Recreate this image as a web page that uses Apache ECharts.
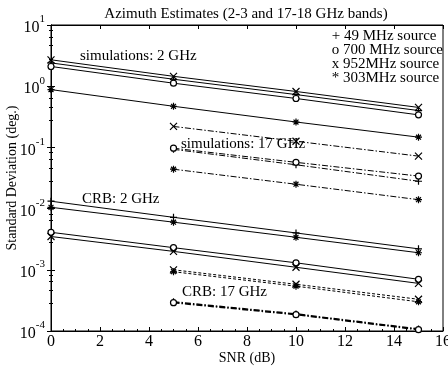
<!DOCTYPE html>
<html><head><meta charset="utf-8">
<script src="https://cdn.jsdelivr.net/npm/echarts@6/dist/echarts.min.js"></script>
<style>html,body{margin:0;padding:0;background:#fff}#c{width:448px;height:366px}</style>
</head><body><div id="c"></div>
<script>
var snr2 = [0, 5, 10, 15];
var snr17 = [5, 10, 15];
// simulations, 2 GHz
var sim2_49  = [2.4, 1.3, 0.73, 0.40];
var sim2_700 = [2.1, 1.12, 0.63, 0.34];
var sim2_952 = [2.7, 1.45, 0.82, 0.45];
var sim2_303 = [0.88, 0.47, 0.26, 0.147];
// simulations, 17 GHz
var sim17_49  = [0.093, 0.052, 0.028];
var sim17_700 = [0.097, 0.057, 0.034];
var sim17_952 = [0.22, 0.126, 0.072];
var sim17_303 = [0.044, 0.025, 0.014];
// CRB, 2 GHz
var crb2_49  = [0.0132, 0.0072, 0.0040, 0.0022];
var crb2_700 = [0.0041, 0.0023, 0.0013, 0.0007];
var crb2_952 = [0.0035, 0.0020, 0.0011, 0.0006];
var crb2_303 = [0.0105, 0.0060, 0.0034, 0.0019];
// CRB, 17 GHz
var crb17_49  = [0.00030, 0.00019, 0.000108];
var crb17_700 = [0.00029, 0.000185, 0.000105];
var crb17_952 = [0.00100, 0.00058, 0.00033];
var crb17_303 = [0.00093, 0.00054, 0.00030];

var legendLines = ['+ 49 MHz source', 'o 700 MHz source', 'x 952MHz source', '* 303MHz source'];
var xTicks = [0, 2, 4, 6, 8, 10, 12, 14, 16];

var FONT = 'Liberation Serif';
var SYM = {
  plus: 'path://M5 0 L5 10 M0 5 L10 5',
  cross: 'path://M0 0 L10 10 M10 0 L0 10',
  star: 'path://M5 0 L5 10 M0 5 L10 5 M1.5 1.5 L8.5 8.5 M8.5 1.5 L1.5 8.5',
  circle: 'circle'
};
function pairs(xs, ys) { return xs.map(function (x, i) { return [x, ys[i]]; }); }
function mk(name, xs, ys, sym, ltype, lw) {
  return {
    name: name, type: 'line', data: pairs(xs, ys),
    symbol: SYM[sym], symbolSize: sym === 'circle' ? 6 : 7,
    showSymbol: true,
    lineStyle: { color: '#000', width: lw || 1, type: ltype },
    itemStyle: { color: sym === 'circle' ? '#fff' : 'rgba(0,0,0,0)', borderColor: '#000', borderWidth: 1.2 },
    animation: false, z: 3
  };
}
var dashdot = [6, 2, 1.5, 2];
var dashed = [3, 2];
var series = [
  mk('sim2 49', snr2, sim2_49, 'plus', 'solid'),
  mk('sim2 700', snr2, sim2_700, 'circle', 'solid'),
  mk('sim2 952', snr2, sim2_952, 'cross', 'solid'),
  mk('sim2 303', snr2, sim2_303, 'star', 'solid'),
  mk('sim17 49', snr17, sim17_49, 'plus', dashdot),
  mk('sim17 700', snr17, sim17_700, 'circle', dashdot),
  mk('sim17 952', snr17, sim17_952, 'cross', dashdot),
  mk('sim17 303', snr17, sim17_303, 'star', dashdot),
  mk('crb2 49', snr2, crb2_49, 'plus', 'solid'),
  mk('crb2 700', snr2, crb2_700, 'circle', 'solid'),
  mk('crb2 952', snr2, crb2_952, 'cross', 'solid'),
  mk('crb2 303', snr2, crb2_303, 'star', 'solid'),
  mk('crb17 49', snr17, crb17_49, 'plus', dashdot, 1.5),
  mk('crb17 700', snr17, crb17_700, 'circle', dashdot, 1.5),
  mk('crb17 952', snr17, crb17_952, 'cross', dashed),
  mk('crb17 303', snr17, crb17_303, 'star', dashed)
];

var chart = echarts.init(document.getElementById('c'), null, { renderer: 'canvas' });
var axisLine = { show: true, lineStyle: { color: '#000', width: 1 } };
var tickIn = { show: true, inside: true, length: 4, lineStyle: { color: '#000' } };
var minorIn = { show: true, splitNumber: 5, length: 2, lineStyle: { color: '#000' } };
function expFmt(v) {
  var e = Math.round(Math.log10(v));
  return '{b|10}{s|' + e + '}';
}
var rich = {
  b: { fontFamily: FONT, fontSize: 16, color: '#000', verticalAlign: 'bottom', lineHeight: 22 },
  s: { fontFamily: FONT, fontSize: 11, color: '#000', verticalAlign: 'top', lineHeight: 22 }
};
chart.setOption({
  backgroundColor: '#fff',
  animation: false,
  title: {
    text: 'Azimuth Estimates (2-3 and 17-18 GHz bands)',
    left: 241, top: 2, textAlign: 'center',
    textStyle: { fontFamily: FONT, fontSize: 15, fontWeight: 'normal', color: '#000' }
  },
  grid: { left: 51, right: 5, top: 25, bottom: 35, outerBoundsMode: 'none', containLabel: false, show: true, borderColor: '#000', borderWidth: 1, backgroundColor: 'transparent' },
  xAxis: [{
    type: 'value', min: xTicks[0], max: xTicks[xTicks.length - 1], interval: 2,
    axisLine: axisLine, axisTick: tickIn, splitLine: { show: false },
    minorTick: { show: true, splitNumber: 4, length: 2, lineStyle: { color: '#000' } },
    axisLabel: { fontFamily: FONT, fontSize: 16, color: '#000', margin: 3, hideOverlap: false },
    name: 'SNR (dB)', nameLocation: 'middle', nameGap: 20, nameMoveOverlap: false,
    nameTextStyle: { fontFamily: FONT, fontSize: 14, color: '#000' }
  }, {
    type: 'value', position: 'top', min: xTicks[0], max: xTicks[xTicks.length - 1], interval: 2,
    axisLine: axisLine, axisTick: tickIn, axisLabel: { show: false }, splitLine: { show: false }
  }],
  yAxis: [{
    type: 'log', logBase: 10, min: 1e-4, max: 10,
    axisLine: axisLine, axisTick: tickIn, splitLine: { show: false },
    minorTick: minorIn,
    axisLabel: { formatter: expFmt, rich: rich, margin: 6 },
    name: 'Standard Deviation (deg.)', nameLocation: 'middle', nameGap: 32, nameMoveOverlap: false,
    nameTextStyle: { fontFamily: FONT, fontSize: 14, color: '#000' }
  }, {
    type: 'log', logBase: 10, min: 1e-4, max: 10, position: 'right',
    axisLine: axisLine, axisTick: tickIn, minorTick: minorIn, axisLabel: { show: false }, splitLine: { show: false }
  }],
  graphic: [
    { type: 'text', right: 5, top: 29, style: { text: legendLines.join('\n'), font: '15px "Liberation Serif"', fill: '#000', lineHeight: 14, align: 'left' } },
    { type: 'text', left: 80, top: 49, style: { text: 'simulations: 2 GHz', font: '15px "Liberation Serif"', fill: '#000' } },
    { type: 'text', left: 181, top: 137, style: { text: 'simulations: 17 GHz', font: '15px "Liberation Serif"', fill: '#000' } },
    { type: 'text', left: 82, top: 192, style: { text: 'CRB: 2 GHz', font: '15px "Liberation Serif"', fill: '#000' } },
    { type: 'text', left: 182, top: 285, style: { text: 'CRB: 17 GHz', font: '15px "Liberation Serif"', fill: '#000' } }
  ],
  series: series
});
</script></body></html>
